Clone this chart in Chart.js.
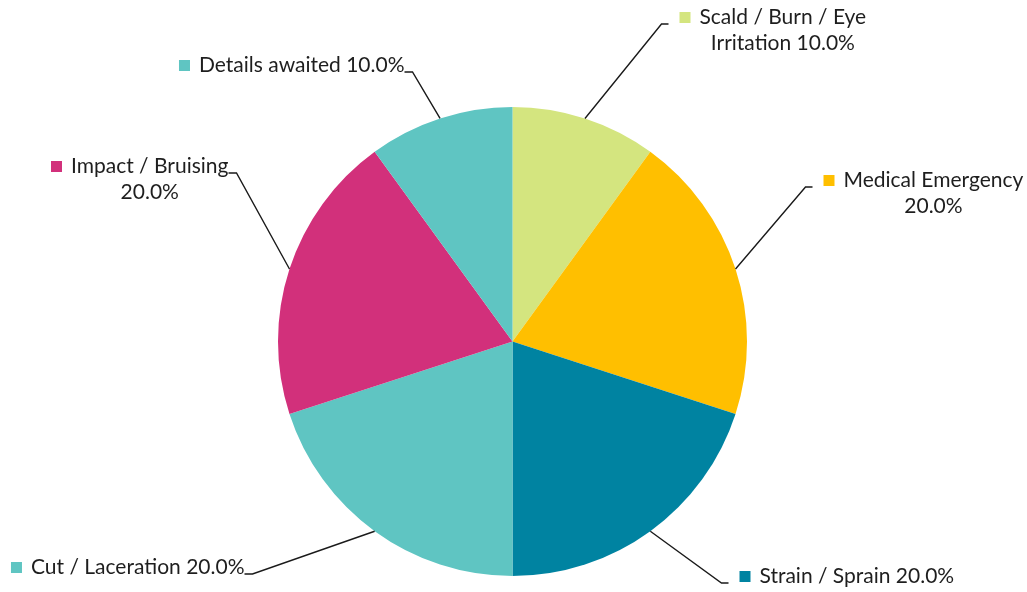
<!DOCTYPE html>
<html>
<head>
<meta charset="utf-8">
<title>Injury types</title>
<script src="https://cdn.jsdelivr.net/npm/chart.js@4/dist/chart.umd.min.js"></script>
<style>
    html, body { margin: 0; padding: 0; background: #fff; }
    #wrap { width: 1027px; height: 592px; position: relative; }
</style>
</head>
<body>
<div id="wrap"><canvas id="injuryChart"></canvas></div>
<script>
// Injury categories and their share of incidents
const categories = ['Scald / Burn / Eye Irritation', 'Medical Emergency', 'Strain / Sprain', 'Cut / Laceration', 'Impact / Bruising', 'Details awaited'];
const shares = [10, 20, 20, 20, 20, 10];
const sliceColors = ['#d4e57f', '#ffbf00', '#0083a1', '#5fc5c2', '#d2307b', '#5fc5c2'];

// Where each leader line bends, relative to the pie centre, and how wide a label may get before wrapping
const elbowOffsets = [[149, -317.5], [293, -154.5], [209, 241.5], [-260, 232.5], [-276, -168.5], [-100, -269.5]];
const wrapWidths = [175, 188, 400, 400, 168, 400];

const FONT = '21px Lato';
const TEXT_COLOR = '#1e1e1e';
const LINE_HEIGHT = 26;

function wrapText(ctx, text, maxWidth) {
    const words = text.split(' ');
    const lines = [];
    let current = '';
    words.forEach(w => {
        const test = current ? current + ' ' + w : w;
        if (current && ctx.measureText(test).width > maxWidth) {
            lines.push(current);
            current = w;
        } else {
            current = test;
        }
    });
    if (current) lines.push(current);
    return lines;
}

// Draws leader lines, colour squares and percentage labels outside the pie
const leaderLabels = {
    id: 'leaderLabels',
    afterDatasetsDraw(chart) {
        const ctx = chart.ctx;
        const meta = chart.getDatasetMeta(0);
        const total = shares.reduce((a, b) => a + b, 0);
        ctx.save();
        ctx.font = FONT;
        meta.data.forEach((arc, i) => {
            const mid = (arc.startAngle + arc.endAngle) / 2;
            const sx = arc.x + Math.cos(mid) * arc.outerRadius;
            const sy = arc.y + Math.sin(mid) * arc.outerRadius;
            const ex = arc.x + elbowOffsets[i][0];
            const ey = arc.y + elbowOffsets[i][1];
            const right = ex > arc.x;
            const hx = right ? ex + 7 : ex - 8;

            ctx.strokeStyle = '#1a1a1a';
            ctx.lineWidth = 1.4;
            ctx.beginPath();
            ctx.moveTo(sx, sy);
            ctx.lineTo(ex, ey);
            ctx.lineTo(hx, ey);
            ctx.stroke();

            const pct = (shares[i] / total * 100).toFixed(1) + '%';
            const lines = wrapText(ctx, categories[i] + ' ' + pct, wrapWidths[i]);
            const firstW = ctx.measureText(lines[0]).width;
            const textLeft = right ? hx + 31 : hx - firstW;
            const textMid = textLeft + firstW / 2;
            const ty = ey - 6.5;

            ctx.fillStyle = sliceColors[i];
            ctx.fillRect(textLeft - 20, ty - 5.5, 11, 11);

            ctx.fillStyle = TEXT_COLOR;
            ctx.textBaseline = 'middle';
            lines.forEach((line, k) => {
                ctx.textAlign = k === 0 ? 'left' : 'center';
                ctx.fillText(line, k === 0 ? textLeft : textMid, ty + k * LINE_HEIGHT);
            });
        });
        ctx.restore();
    }
};

const config = {
    type: 'pie',
    data: {
        labels: categories,
        datasets: [{
            data: shares,
            backgroundColor: sliceColors,
            borderWidth: 0
        }]
    },
    options: {
        responsive: true,
        maintainAspectRatio: false,
        animation: false,
        layout: { padding: { top: 107, bottom: 16, left: 0, right: 2 } },
        plugins: {
            legend: { display: false },
            tooltip: { enabled: false }
        }
    },
    plugins: [leaderLabels]
};

document.fonts.load(FONT).then(() => {
    new Chart(document.getElementById('injuryChart'), config);
});
</script>
</body>
</html>
